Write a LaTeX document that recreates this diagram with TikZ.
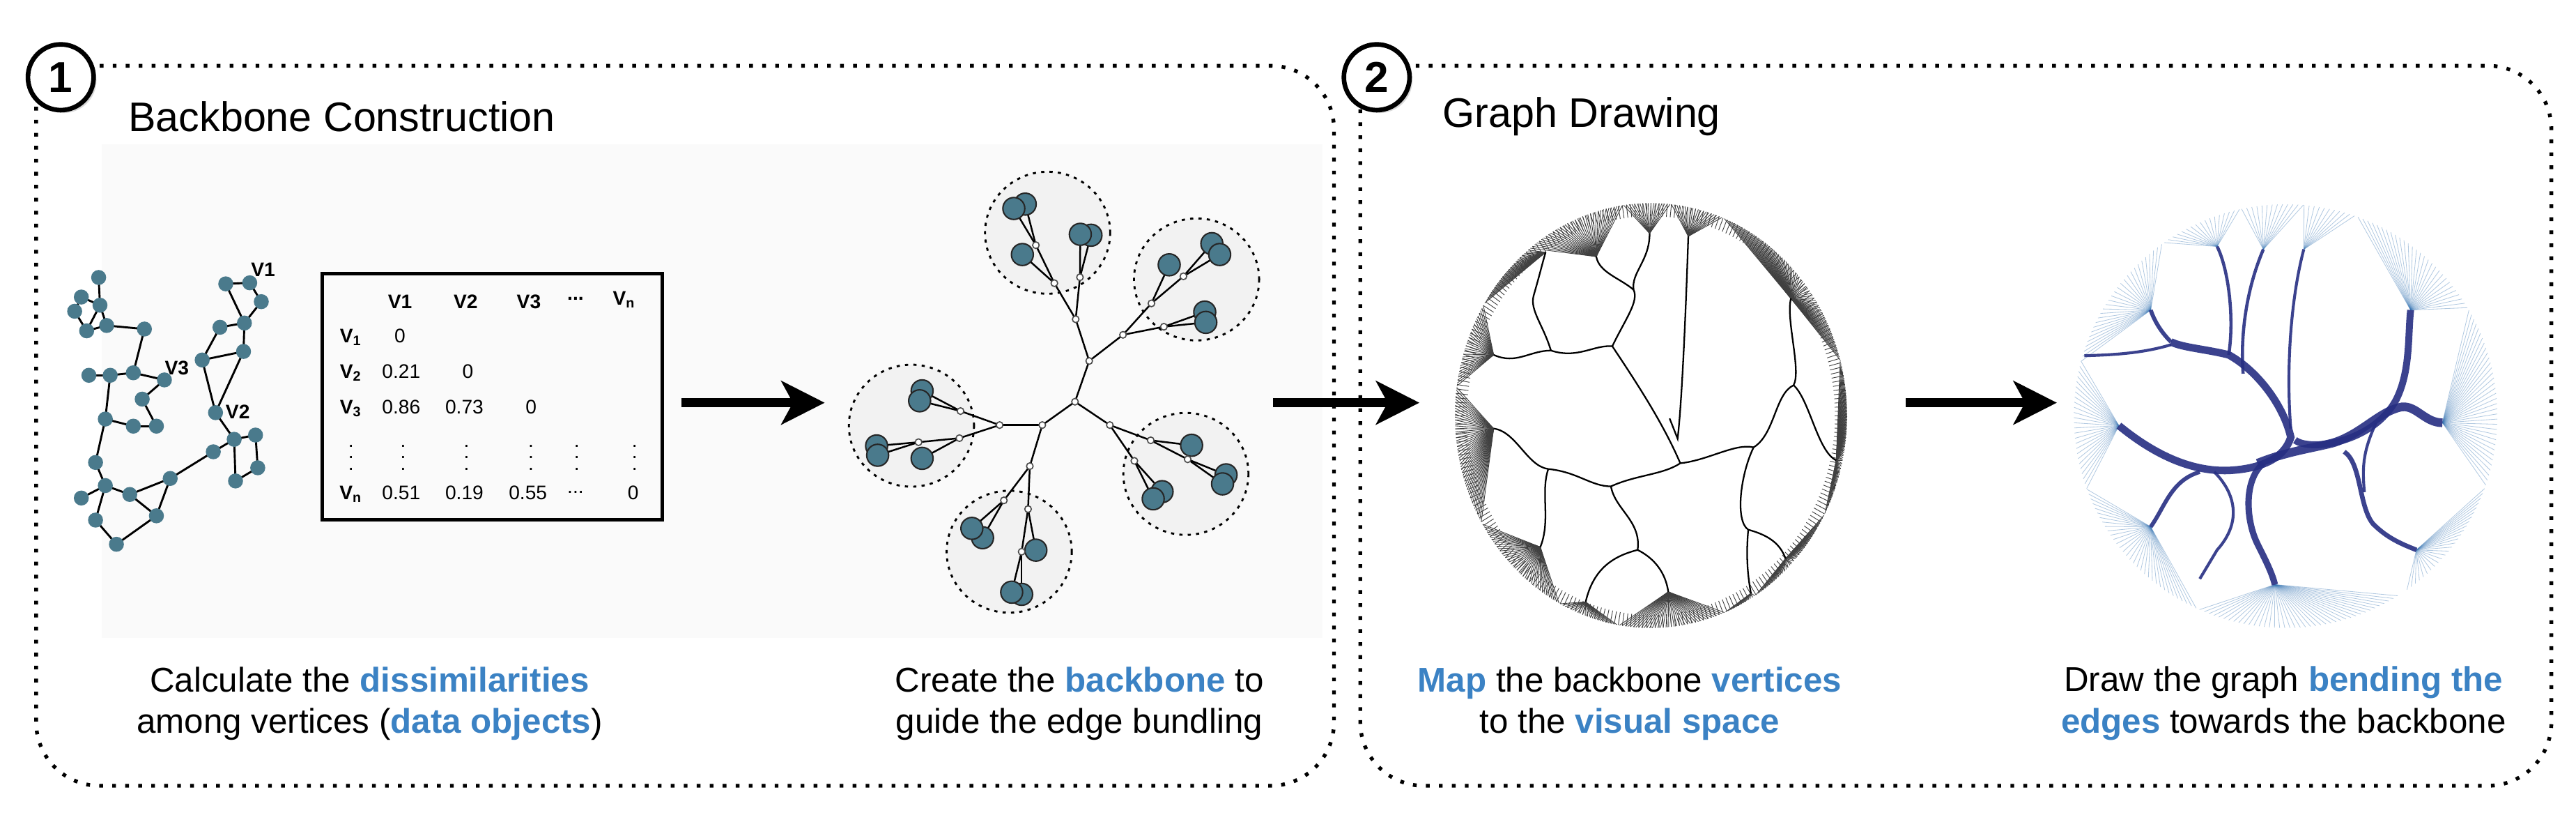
\documentclass[tikz,border=0pt]{standalone}
\usepackage{fontspec}
\setmainfont{Liberation Sans}
\usetikzlibrary{arrows.meta,shadows}
\definecolor{hl}{RGB}{59,130,196}
\definecolor{nodeteal}{RGB}{74,122,140}
\definecolor{bund}{RGB}{38,46,130}
\definecolor{fan}{RGB}{60,120,180}
\begin{document}
\begin{tikzpicture}[x=0.02cm,y=-0.02cm,
  panel/.style={line width=1.3pt,dash pattern=on 1.3pt off 3.2pt,rounded corners=22pt},
  num/.style={circle,draw,line width=1.6pt,fill=white,minimum size=40*0.02cm,inner sep=0pt,font=\bfseries\fontsize{15}{15}\selectfont,drop shadow={opacity=0.3,shadow xshift=1pt,shadow yshift=-1pt}},
  title/.style={anchor=west,font=\fontsize{14.3}{16}\selectfont},
  captxt/.style={align=center,font=\fontsize{11.9}{14.4}\selectfont},
  gv/.style={circle,fill=nodeteal,inner sep=0pt,minimum size=5.2pt},
  gedge/.style={line width=0.7pt},
  leaf/.style={circle,draw=black!85,line width=0.5pt,fill=nodeteal,inner sep=0pt,minimum size=7.6pt},
  junc/.style={circle,draw=black!70,fill=white,line width=0.4pt,inner sep=0pt,minimum size=2.3pt},
  tedge/.style={line width=0.6pt},
  clus/.style={draw,fill=black!5,dash pattern=on 1.1pt off 1.8pt,line width=0.7pt},
  bigarrow/.style={line width=3.2pt,-{Stealth[length=15pt,width=15pt,inset=4pt]}},
  mtx/.style={font=\fontsize{6.8}{7}\selectfont},
  mtxb/.style={font=\bfseries\fontsize{6.8}{7}\selectfont},
  rim/.style={black!75,line width=0.22pt},
  cur/.style={line width=0.55pt},
  fanl/.style={fan,opacity=0.4,line width=0.2pt},
  bd/.style={bund,opacity=0.9}]
\useasboundingbox (0,0) rectangle (1568,500);
\fill[black!2] (62,88) rectangle (805,388);
% panels
\draw[panel] (37,40) -- (812,40) -- (812,478) -- (22,478) -- (22,60);
\draw[panel] (838,40) -- (1553,40) -- (1553,478) -- (828,478) -- (828,60);
\node[num] (n1) at (37,47) {1};
\node[num] (n2) at (838,47) {2};
\node[title] (t1) at (72,71) {Backbone Construction};
\node[title] (t2) at (872,71) {Graph Drawing};

% ---------- graph + matrix (zoom1 coords) ----------
\begin{scope}[xscale=0.2705,yscale=0.2164]
\foreach \n/\p in {a/{222,780},b/{183,835},c/{168,875},d/{195,930},e/{225,858},f/{240,915},g/{325,925},h/{300,1048},i/{248,1055},j/{200,1055},k/{370,1068},l/{320,1122},m/{352,1198},o/{300,1198},p/{237,1178},q/{215,1300},r/{237,1365},s/{183,1400},t/{292,1390},u/{215,1462},v/{262,1530},w/{352,1450},x/{383,1345},y/{480,1270},z/{527,1235},A/{575,1223},B/{580,1315},C/{530,1352},D/{485,1160},E/{455,1012},F/{548,988},G/{495,920},H/{550,908},I/{588,848},J/{562,795},K/{508,798}}
  \coordinate (g\n) at (\p);
\foreach \s/\t in {a/e,b/c,c/d,d/e,b/e,e/f,d/f,f/g,g/h,j/i,i/h,h/k,k/l,l/m,m/o,o/p,i/p,p/q,q/r,r/s,r/t,r/u,u/v,v/w,t/w,w/x,t/x,x/y,y/z,z/A,A/B,B/C,C/z,z/D,D/E,D/F,E/F,E/G,G/H,H/F,H/I,I/J,J/K,K/H}
  \draw[gedge] (g\s) -- (g\t);
\foreach \n in {a,b,c,d,e,f,g,h,i,j,k,l,m,o,p,q,r,s,t,u,v,w,x,y,z,A,B,C,D,E,F,G,H,I,J,K}
  \node[gv] (v\n) at (g\n) {};
\node[mtxb] (lv1) at (592,758) {V1};
\node[mtxb] (lv3) at (398,1035) {V3};
\node[mtxb] (lv2) at (535,1158) {V2};
\coordinate (mtl) at (725,770); \coordinate (mbr) at (1490,1462);
\draw[line width=1.2pt] (mtl) rectangle (mbr);
\node[mtxb] (h1) at (900,848) {V1};
\node[mtxb] (h2) at (1048,848) {V2};
\node[mtxb] (h3) at (1190,848) {V3};
\node[mtxb] (h4) at (1295,840) {...};
\node[mtxb] (h5) at (1405,843) {V\textsubscript{n}};
\node[mtxb] (r1) at (790,948) {V\textsubscript{1}};
\node[mtxb] (r2) at (790,1048) {V\textsubscript{2}};
\node[mtxb] (r3) at (790,1148) {V\textsubscript{3}};
\node[mtxb] (rn) at (790,1390) {V\textsubscript{n}};
\node[mtx] (c11) at (900,945) {0};
\node[mtx] (c21) at (903,1045) {0.21};
\node[mtx] (c22) at (1053,1045) {0};
\node[mtx] (c31) at (903,1145) {0.86};
\node[mtx] (c32) at (1045,1145) {0.73};
\node[mtx] (c33) at (1195,1145) {0};
\foreach \x [count=\i] in {790,907,1050,1195,1298,1428}
  \node[mtx] (vd\i) at (\x,1262) {\vdots};
\node[mtx] (cn1) at (903,1386) {0.51};
\node[mtx] (cn2) at (1045,1386) {0.19};
\node[mtx] (cn3) at (1188,1386) {0.55};
\node[mtx] (cn4) at (1295,1383) {...};
\node[mtx] (cn5) at (1425,1386) {0};
\end{scope}

% ---------- backbone tree (zoom2 coords) ----------
\begin{scope}[shift={(487.7,84.8)},xscale=0.2164,yscale=0.1893]
\foreach \c in {(693,300),(1112,450),(1082,1075),(310,920),(585,1325)}
  \draw[clus] \c ellipse (176 and 196);
\foreach \n/\p in {C1/{770,843},C2/{810,712},
 a1/{772,578},a2/{712,462},a3/{660,340},a4/{784,443},
 b1/{905,628},b2/{985,527},b3/{1075,440},b4/{1020,602},
 c1/{868,918},c2/{983,967},c3/{1087,1028},c4/{937,1033},
 d1/{678,918},d2/{558,918},d3/{448,873},d4/{445,960},d5/{330,973},
 e1/{643,1050},e2/{570,1160},e3/{638,1188},e4/{620,1325}}
  \coordinate (\n) at (\p);
\foreach \n/\p in {L1/{630,208},L2/{598,222},L3/{622,370},L4/{815,308},L5/{785,305},
 L6/{1155,335},L7/{1177,370},L8/{1035,403},L9/{1135,555},L10/{1138,588},
 L11/{1098,983},L12/{1195,1078},L13/{1185,1107},L14/{1015,1132},L15/{990,1155},
 L16/{340,808},L17/{333,840},L18/{212,985},L19/{215,1015},L20/{340,1025},
 L21/{510,1280},L22/{480,1250},L23/{620,1462},L24/{592,1455},L25/{660,1320}}
  \coordinate (\n) at (\p);
\foreach \s/\t in {C1/C2,C2/a1,a1/a2,a2/a3,a3/L1,a3/L2,a2/L3,a1/a4,a4/L4,a4/L5,
 C2/b1,b1/b2,b2/b3,b3/L6,b3/L7,b2/L8,b1/b4,b4/L9,b4/L10,
 C1/c1,c1/c2,c2/L11,c2/c3,c3/L12,c3/L13,c1/c4,c4/L14,c4/L15,
 C1/d1,d1/d2,d2/d3,d3/L16,d3/L17,d2/d4,d4/d5,d5/L18,d5/L19,d4/L20,
 d1/e1,e1/e2,e2/L21,e2/L22,e1/e3,e3/e4,e4/L23,e4/L24,e3/L25}
  \draw[tedge] (\s) -- (\t);
\foreach \n in {L1,L2,L3,L4,L5,L6,L7,L8,L9,L10,L11,L12,L13,L14,L15,L16,L17,L18,L19,L20,L21,L22,L23,L24,L25}
  \node[leaf] (n\n) at (\n) {};
\foreach \n in {C1,C2,a1,a2,a3,a4,b1,b2,b3,b4,c1,c2,c3,c4,d1,d2,d3,d4,d5,e1,e2,e3,e4}
  \node[junc] (j\n) at (\n) {};
\end{scope}

% ---------- left circle (zoomA coords, centre 835,835, r 735) ----------
\begin{scope}[shift={(869.4,106.0)},xscale=0.1623,yscale=0.1758]
\foreach \a in {0,1.2,...,358.8}
  \draw[rim] ({835+735*cos(\a)},{835+735*sin(\a)}) -- ({835+690*cos(\a)},{835+690*sin(\a)});
\foreach \hx/\hy/\aa/\bb in {630/285/232/262, 830/205/262/276, 975/215/276/292, 1360/430/292/345, 1530/990/-15/28, 1340/1330/28/58, 1210/1450/58/68, 900/1445/68/100, 590/1480/100/118, 420/1290/118/150, 245/880/150/188, 245/625/188/212, 440/270/212/232}
  {\pgfmathsetmacro\nx{\aa+0.8}
  \foreach \t in {\aa,\nx,...,\bb} \draw[rim] (\hx,\hy) -- ({835+735*cos(\t)},{835+735*sin(\t)});}
\draw[cur] (975,215) .. controls (965,500) and (950,800) .. (935,915) -- (905,845);
\draw[cur] (690,595) .. controls (780,720) and (880,860) .. (945,1000);
\draw[cur] (690,595) .. controls (740,500) and (790,440) .. (770,400) .. controls (760,340) and (830,300) .. (830,205);
\draw[cur] (630,285) .. controls (640,340) and (720,360) .. (770,400);
\draw[cur] (245,625) .. controls (330,660) and (380,610) .. (460,610) .. controls (560,640) and (620,590) .. (690,595);
\draw[cur] (460,610) .. controls (430,520) and (380,470) .. (395,420) .. controls (420,340) and (430,300) .. (440,270);
\draw[cur] (245,880) .. controls (330,890) and (370,1010) .. (450,1020) .. controls (560,1030) and (610,1080) .. (685,1080) .. controls (780,1040) and (880,1040) .. (945,1000) .. controls (1050,990) and (1150,930) .. (1220,945);
\draw[cur] (1220,945) .. controls (1300,900) and (1300,760) .. (1370,730) .. controls (1400,680) and (1340,500) .. (1360,430);
\draw[cur] (1370,730) .. controls (1430,780) and (1460,960) .. (1530,990);
\draw[cur] (1220,945) .. controls (1170,1040) and (1150,1200) .. (1200,1230) .. controls (1280,1250) and (1320,1280) .. (1340,1330);
\draw[cur] (1200,1230) .. controls (1190,1330) and (1200,1400) .. (1210,1450);
\draw[cur] (450,1020) .. controls (420,1100) and (460,1200) .. (420,1290);
\draw[cur] (685,1080) .. controls (700,1160) and (800,1200) .. (785,1300) .. controls (700,1320) and (620,1360) .. (590,1480);
\draw[cur] (785,1300) .. controls (850,1330) and (890,1380) .. (900,1445);
\end{scope}

% ---------- right circle (zoomB coords, centre 797,837, r 733) ----------
\begin{scope}[shift={(1251.1,106.0)},scale=0.1758]
\foreach \hx/\hy/\aa/\bb in {330/470/195/235, 560/250/235/258, 720/260/258/275, 860/260/275/290, 1230/470/290/330, 1340/860/-30/20, 1250/1300/20/55, 760/1420/58/115, 330/1220/115/160, 220/870/160/195}
  {\pgfmathsetmacro\nx{\aa+1.4}
  \foreach \t in {\aa,\nx,...,\bb} \draw[fanl] (\hx,\hy) -- ({797+733*cos(\t)},{837+733*sin(\t)});}
\draw[bd,line width=2.6pt] (220,870) .. controls (330,960) and (460,1030) .. (600,1025) .. controls (700,1020) and (790,990) .. (815,910) .. controls (790,800) and (700,680) .. (600,625) .. controls (520,605) and (440,600) .. (400,580);
\draw[bd,line width=1.4pt] (400,580) .. controls (360,540) and (340,500) .. (330,470);
\draw[bd,line width=1.0pt] (400,590) .. controls (300,620) and (200,625) .. (100,628);
\draw[bd,line width=3pt] (700,1000) .. controls (800,960) and (880,950) .. (960,930) .. controls (1060,900) and (1120,820) .. (1200,805) .. controls (1250,800) and (1280,860) .. (1340,860);
\draw[bd,line width=2.4pt] (830,920) .. controls (880,960) and (1100,930) .. (1180,780) .. controls (1230,680) and (1220,560) .. (1230,470);
\draw[bd,line width=1.0pt] (815,880) .. controls (800,700) and (810,450) .. (860,260);
\draw[bd,line width=1.1pt] (650,690) .. controls (640,560) and (660,400) .. (720,260);
\draw[bd,line width=1.1pt] (600,625) .. controls (620,500) and (600,330) .. (560,250);
\draw[bd,line width=2.2pt] (720,1000) .. controls (650,1060) and (660,1200) .. (700,1280) .. controls (730,1340) and (750,1380) .. (760,1420);
\draw[bd,line width=1.4pt] (500,1030) .. controls (400,1060) and (380,1150) .. (330,1220);
\draw[bd,line width=1.0pt] (550,1030) .. controls (620,1100) and (650,1200) .. (560,1300) -- (500,1400);
\draw[bd,line width=1.6pt] (1000,960) .. controls (1060,1000) and (1050,1150) .. (1100,1210) .. controls (1150,1260) and (1200,1280) .. (1250,1300);
\draw[bd,line width=1.0pt] (1110,860) .. controls (1070,950) and (1060,1000) .. (1070,1100);
\end{scope}

% arrows
\coordinate (a1s) at (415,245); \coordinate (a1e) at (502,245);
\coordinate (a2s) at (775,245); \coordinate (a2e) at (864,245);
\coordinate (a3s) at (1160,245); \coordinate (a3e) at (1252,245);
\draw[bigarrow] (a1s) -- (a1e);
\draw[bigarrow] (a2s) -- (a2e);
\draw[bigarrow] (a3s) -- (a3e);

% captions
\node[captxt] (cp1) at (225,428) {Calculate the \textcolor{hl}{\textbf{dissimilarities}}\\among vertices (\textcolor{hl}{\textbf{data objects}})};
\node[captxt] (cp2) at (657,428) {Create the \textcolor{hl}{\textbf{backbone}} to\\guide the edge bundling};
\node[captxt] (cp3) at (992,428) {\textcolor{hl}{\textbf{Map}} the backbone \textcolor{hl}{\textbf{vertices}}\\to the \textcolor{hl}{\textbf{visual space}}};
\node[captxt] (cp4) at (1390,428) {Draw the graph \textcolor{hl}{\textbf{bending the}}\\\textcolor{hl}{\textbf{edges}} towards the backbone};
\end{tikzpicture}
\end{document}
